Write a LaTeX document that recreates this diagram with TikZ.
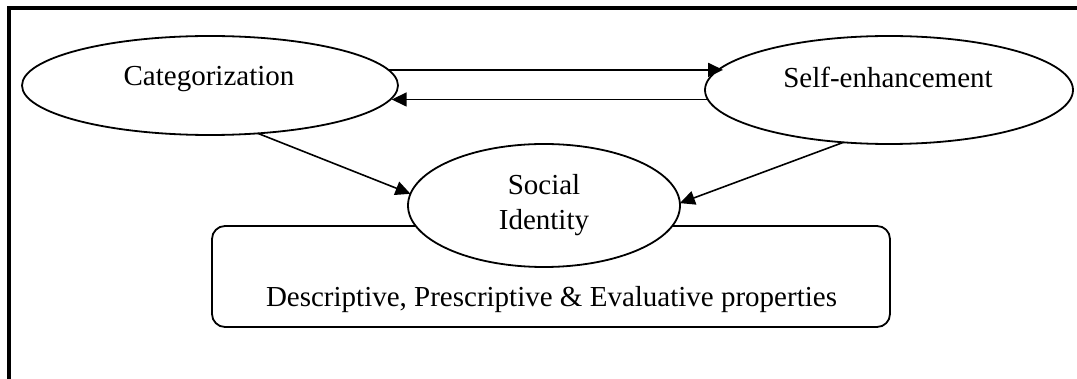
\documentclass[tikz,border=0pt]{standalone}
\usepackage{fontspec}
\setmainfont{Liberation Serif}
\usetikzlibrary{arrows.meta,shapes.geometric}
\begin{document}
\begin{tikzpicture}[x=0.5pt,y=-0.5pt,
  every node/.style={font=\fontsize{14.5}{17.5}\selectfont},
  oval/.style={draw, ellipse, line width=0.9pt, inner sep=0pt, outer sep=0pt},
  panel/.style={draw, rectangle, rounded corners=6.5pt, line width=0.9pt, inner sep=0pt, outer sep=0pt},
  link/.style={line width=0.8pt, -{Triangle[length=7.5pt,width=7pt]}},
  lbl/.style={anchor=base, inner sep=0pt}]
\useasboundingbox (0,0) rectangle (1077,379);
% outer frame: top and left edges only
\draw[line width=1.6pt] (9,379) -- (9,8) -- (1077,8);

% upper ellipses
\node[oval, minimum width=188pt, minimum height=49.5pt] (cat) at (210,85.5) {};
\node[lbl] (catText) at (209,86) {Categorization};
\node[oval, minimum width=184pt, minimum height=54pt] (self) at (889,90) {};
\node[lbl] (selfText) at (888,88) {Self-enhancement};

% properties panel with the identity ellipse over its top edge
\node[panel, minimum width=339pt, minimum height=50.5pt] (props) at (551,276.5) {};
\node[lbl] (propsText) at (551.5,306.5) {Descriptive, Prescriptive \& Evaluative properties};
\node[oval, fill=white, align=center, minimum width=136pt, minimum height=61.5pt] (soc) at (544,205.5) {Social\\Identity};

% connectors (the two horizontal ones kept level)
\draw[link] (cat.5.32) -- (self.172.94 |- cat.5.32);
\draw[link] (self.183.17) -- (cat.-4.61 |- self.183.17);
\draw[link] (cat.-45.9) -- (soc.175.6);
\draw[link] (self.229.6) -- (soc.1);
\end{tikzpicture}
\end{document}
